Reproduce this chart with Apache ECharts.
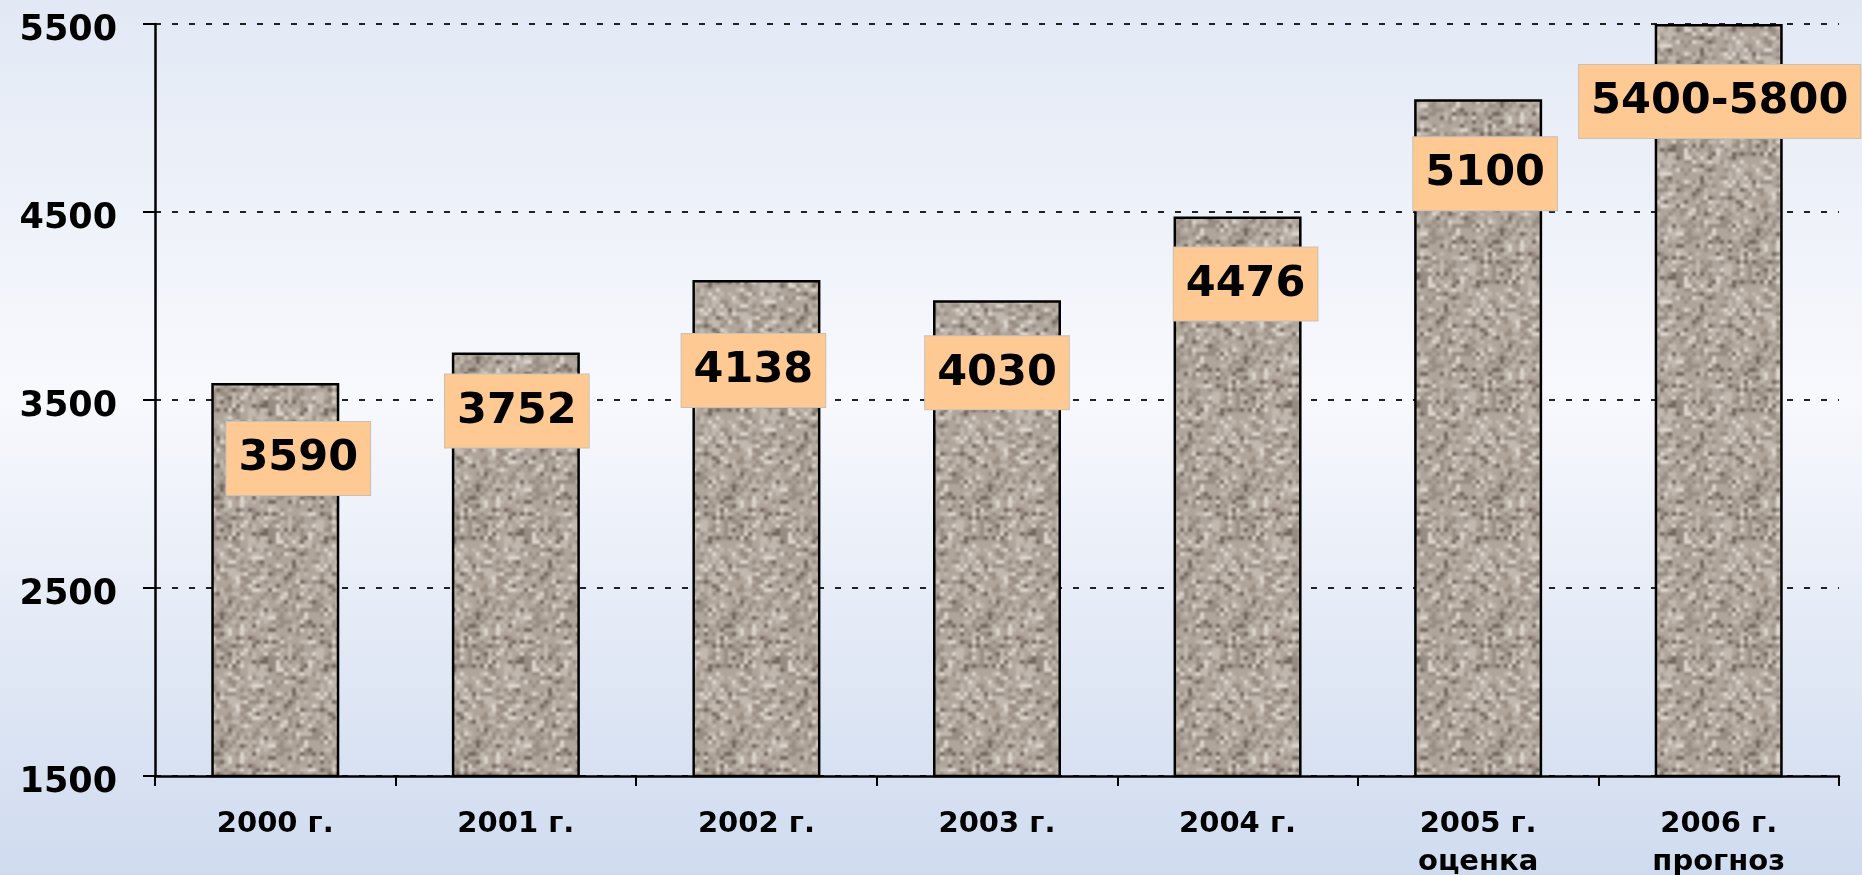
<!DOCTYPE html>
<html>
<head>
<meta charset="utf-8">
<script src="https://cdn.jsdelivr.net/npm/echarts@6/dist/echarts.min.js"></script>
<style>
  html, body { margin: 0; padding: 0; }
  #chart { width: 1862px; height: 875px; }
</style>
</head>
<body>
<div id="chart"></div>
<script>
// data
const years = ['2000 г.', '2001 г.', '2002 г.', '2003 г.', '2004 г.', '2005 г.\nоценка', '2006 г.\nпрогноз']
const values = [3590, 3752, 4138, 4030, 4476, 5100, 5500]
const valueLabels = ['3590', '3752', '4138', '4030', '4476', '5100', '5400-5800']
const yTicks = [1500, 2500, 3500, 4500, 5500]

// where each orange box sits relative to its bar top
const labelNudge = [[23, 39], [1, 22], [-3, 54], [0, 36], [8, 31], [7, 38], [1, 41]]

// granite-ish fill for the bars (deterministic hash noise, just a texture)
function makeGranite() {
  const size = 128, cell = 4
  const hash = (x, y) => {
    let h = (x * 374761393 + y * 668265263) | 0
    h = (h ^ (h >>> 13)) * 1274126177
    h = h ^ (h >>> 16)
    return (h >>> 0) / 4294967295
  }
  // paint a 3x3 tiled sheet so the blur wraps cleanly
  const big = document.createElement('canvas')
  big.width = size * 3; big.height = size * 3
  const ctx = big.getContext('2d')
  for (let y = 0; y < size * 3; y += cell) {
    for (let x = 0; x < size * 3; x += cell) {
      const r = hash((x % size) / cell, (y % size) / cell)
      let g
      if (r < 0.07) g = [115, 103, 93]
      else if (r < 0.28) g = [152, 141, 130]
      else if (r < 0.68) g = [175, 165, 155]
      else if (r < 0.92) g = [194, 186, 177]
      else g = [220, 214, 206]
      ctx.fillStyle = `rgb(${g[0]},${g[1]},${g[2]})`
      ctx.fillRect(x, y, cell, cell)
    }
  }
  const out = document.createElement('canvas')
  out.width = size; out.height = size
  const octx = out.getContext('2d')
  octx.filter = 'blur(0.9px)'
  octx.drawImage(big, -size, -size)
  return out
}

const chart = echarts.init(document.getElementById('chart'), null, { renderer: 'canvas' })

const barData = values.map((v, i) => ({
  value: v,
  label: { offset: labelNudge[i] }
}))

chart.setOption({
  animation: false,
  backgroundColor: {
    type: 'linear', x: 0, y: 0, x2: 0, y2: 1,
    colorStops: [
      { offset: 0, color: '#e2e9f5' },
      { offset: 0.45, color: '#f8f9fd' },
      { offset: 1, color: '#cfdbef' }
    ]
  },
  grid: {
    left: 155, right: 23, top: 24, bottom: 99,
    containLabel: false,
    outerBoundsMode: 'none'
  },
  xAxis: {
    type: 'category',
    data: years,
    axisLine: { lineStyle: { color: '#000', width: 2.5 } },
    axisTick: { show: true, length: 10, inside: false, lineStyle: { color: '#000', width: 2 } },
    axisLabel: {
      color: '#000',
      fontFamily: 'DejaVu Sans',
      fontWeight: 'bold',
      fontSize: 29,
      lineHeight: 38,
      margin: 29,
      interval: 0
    }
  },
  yAxis: {
    type: 'value',
    min: yTicks[0],
    max: yTicks[yTicks.length - 1],
    interval: 1000,
    axisLine: { show: true, lineStyle: { color: '#000', width: 2.5 } },
    axisTick: { show: true, length: 12, lineStyle: { color: '#000', width: 2 } },
    axisLabel: {
      color: '#000',
      fontFamily: 'DejaVu Sans',
      fontWeight: 'bold',
      fontSize: 35,
      margin: 38,
      verticalAlign: 'top',
      lineHeight: 14,
      formatter: (v) => String(v)
    },
    splitLine: { lineStyle: { color: '#222', width: 2, type: [6, 11] } }
  },
  series: [{
    type: 'bar',
    data: barData,
    barWidth: 128,
    itemStyle: {
      color: { image: makeGranite(), repeat: 'repeat' },
      borderColor: '#000',
      borderWidth: 2.5
    },
    label: {
      show: true,
      position: 'insideTop',
      distance: 0,
      formatter: (p) => valueLabels[p.dataIndex],
      color: '#000',
      fontFamily: 'DejaVu Sans',
      fontWeight: 'bold',
      fontSize: 43,
      lineHeight: 50,
      backgroundColor: '#ffc993',
      borderColor: '#c9c0b6',
      borderWidth: 1,
      padding: [12, 12, 11, 12]
    }
  }]
})
</script>
</body>
</html>
